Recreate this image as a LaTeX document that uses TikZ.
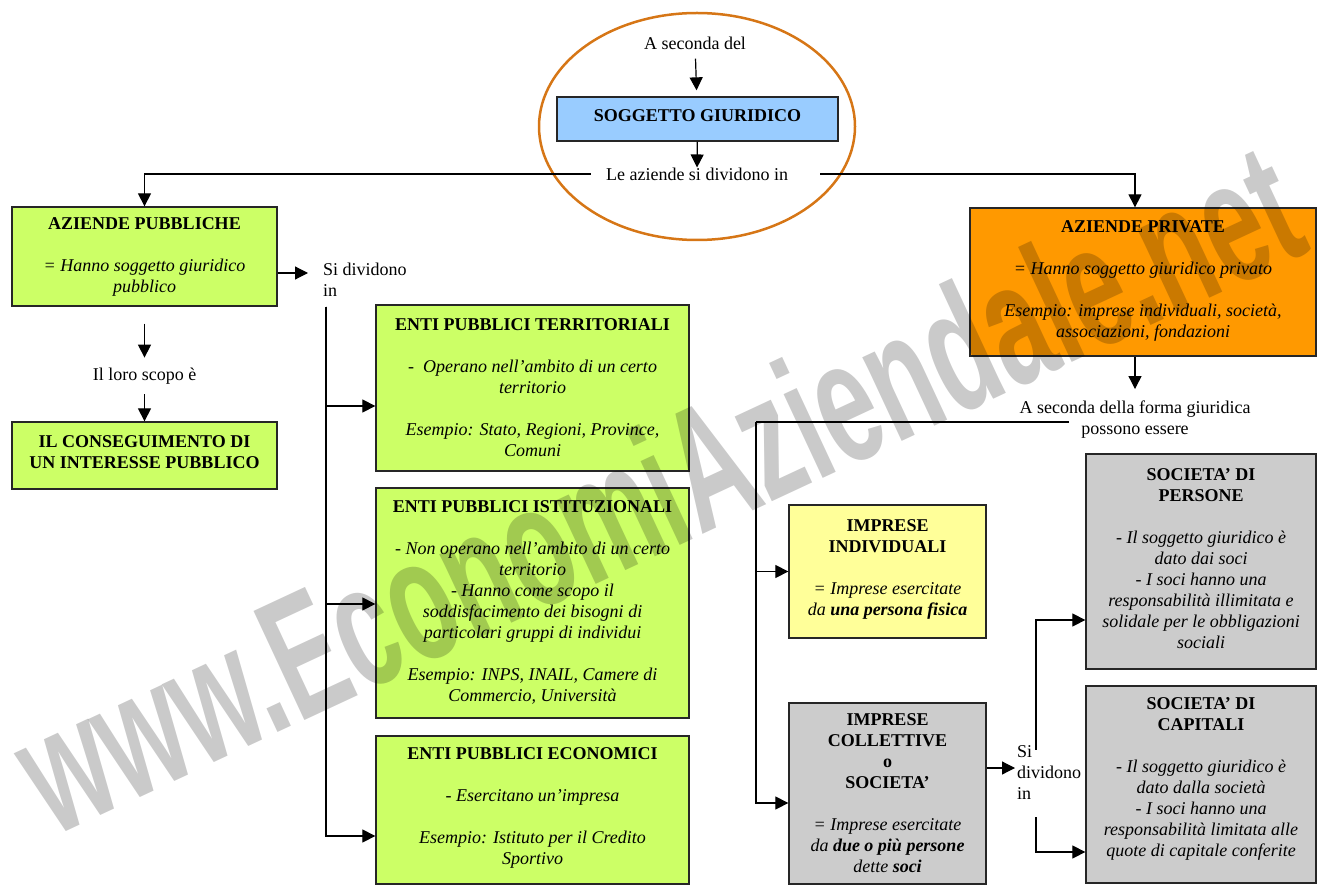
\documentclass[tikz,border=0pt]{standalone}
\usepackage{fontspec}
\setmainfont{Liberation Serif}
\newfontfamily\wmfont{Liberation Sans}
\usetikzlibrary{shapes.geometric, positioning, arrows.meta}

\definecolor{pubgreen}{RGB}{204,255,102}
\definecolor{soggblue}{RGB}{153,204,255}
\definecolor{privorange}{RGB}{255,153,0}
\definecolor{indyellow}{RGB}{255,255,153}
\definecolor{socgray}{RGB}{204,204,204}
\definecolor{ovalorange}{RGB}{214,118,22}
\definecolor{wmgray}{RGB}{202,202,202}

\begin{document}
\begin{tikzpicture}[x=1pt, y=-1pt, >={Triangle[length=13pt,width=13pt]},
    every node/.style={font=\fontsize{18}{21}\selectfont},
    box/.style={draw=black!85, line width=1.3pt, rectangle, align=center, inner sep=0pt,
        execute at end node={\rule[-#1]{0pt}{#1}}},
    box/.default=0pt,
    link/.style={line width=1.2pt}]
        \useasboundingbox (0,0) rectangle (1324,890);

        \node (oval) [draw=ovalorange, line width=2.5pt, ellipse, minimum width=316pt, minimum height=227pt] at (697,126.5) {};
        \node (sec) [inner ysep=9pt] at (695,43) {A seconda del};
        \node (sogg) [box=6pt, fill=soggblue, minimum width=281pt, minimum height=44pt] at (697.5,119) {\textbf{SOGGETTO GIURIDICO}};
        \node (split) [inner xsep=15pt, inner ysep=0pt] at (697,174) {Le aziende si dividono in};

        \node (pub) [box, fill=pubgreen, minimum width=265pt, minimum height=99pt] at (144.5,256.5) {\textbf{AZIENDE PUBBLICHE}\\[21pt] \textit{= Hanno soggetto giuridico}\\ \textit{pubblico}};
        \node (scopo) [inner ysep=10pt] at (144.5,376) {Il loro scopo è};
        \node (cons) [box=7pt, fill=pubgreen, minimum width=265pt, minimum height=67pt] at (144.5,455.5) {\textbf{IL CONSEGUIMENTO DI}\\ \textbf{UN INTERESSE PUBBLICO}};

        \node (sidiv) [inner xsep=15pt, inner ysep=0pt, align=left, anchor=north west] at (308,262.7) {Si dividono\\in};
        \coordinate (trunk) at ([xshift=18pt,yshift=-10pt]sidiv.south west);

        \node (terr) [box=1pt, fill=pubgreen, minimum width=313pt, minimum height=166pt] at (532.5,388) {\textbf{ENTI PUBBLICI TERRITORIALI}\\[21pt] \textit{-\ \ Operano nell'ambito di un certo}\\ \textit{territorio}\\[21pt] \textit{Esempio: Stato, Regioni, Province,}\\ \textit{Comuni}};
        \node (ist) [box=3pt, fill=pubgreen, minimum width=313pt, minimum height=230pt] at (532.5,603) {\textbf{ENTI PUBBLICI ISTITUZIONALI}\\[21pt] \textit{- Non operano nell'ambito di un certo}\\ \textit{territorio}\\ \textit{- Hanno come scopo il}\\ \textit{soddisfacimento dei bisogni di}\\ \textit{particolari gruppi di individui}\\[21pt] \textit{Esempio: INPS, INAIL, Camere di}\\ \textit{Commercio, Università}};
        \node (eco) [box=8pt, fill=pubgreen, minimum width=313pt, minimum height=148pt] at (532.5,810) {\textbf{ENTI PUBBLICI ECONOMICI}\\[21pt] \textit{- Esercitano un'impresa}\\[21pt] \textit{Esempio: Istituto per il Credito}\\ \textit{Sportivo}};

        \node (priv) [box=6pt, fill=privorange, minimum width=346pt, minimum height=148pt] at (1143,282) {\textbf{AZIENDE PRIVATE}\\[21pt] \textit{= Hanno soggetto giuridico privato}\\[21pt] \textit{Esempio: imprese individuali, società,}\\ \textit{associazioni, fondazioni}};
        \node (forma) [inner ysep=12pt, align=center] at (1135,420) {A seconda della forma giuridica\\possono essere};
        \coordinate (fork) at (1069,422);
        \coordinate (rtrunk) at (756,422);

        \node (indiv) [box=8pt, fill=indyellow, minimum width=197pt, minimum height=133pt] at (887.5,571.5) {\textbf{IMPRESE}\\ \textbf{INDIVIDUALI}\\[21pt] \textit{= Imprese esercitate}\\ \textit{da \textbf{una persona fisica}}};
        \node (coll) [box=1pt, fill=socgray, minimum width=197pt, minimum height=181pt] at (887.5,793.5) {\textbf{IMPRESE}\\ \textbf{COLLETTIVE}\\ \textbf{o}\\ \textbf{SOCIETA'}\\[21pt] \textit{= Imprese esercitate}\\ \textit{da \textbf{due o più persone}}\\ \textit{dette \textbf{soci}}};
        \node (sidiv2) [inner sep=0pt, align=left, anchor=north west] at (1017,745.7) {Si\\dividono\\in};
        \node (pers) [box=5pt, fill=socgray, minimum width=230pt, minimum height=215pt] at (1201,561.5) {\textbf{SOCIETA' DI}\\ \textbf{PERSONE}\\[21pt] \textit{- Il soggetto giuridico è}\\ \textit{dato dai soci}\\ \textit{- I soci hanno una}\\ \textit{responsabilità illimitata e}\\ \textit{solidale per le obbligazioni}\\ \textit{sociali}};
        \node (cap) [box=15pt, fill=socgray, minimum width=230pt, minimum height=197pt] at (1201,784.5) {\textbf{SOCIETA' DI}\\ \textbf{CAPITALI}\\[21pt] \textit{- Il soggetto giuridico è}\\ \textit{dato dalla società}\\ \textit{- I soci hanno una}\\ \textit{responsabilità limitata alle}\\ \textit{quote di capitale conferite}};

        \draw[->, link, shorten >=6pt] (sec) -- (sogg);
        \draw[->, link] (sogg) -- (split);
        \draw[->, link] (split.west) -| (pub.north);
        \draw[->, link] ([xshift=17pt]split.east) -| ([xshift=-8pt]priv.north);
        \draw[->, link, shorten <=17pt] (pub) -- (scopo);
        \draw[->, link] (scopo) -- (cons);
        \draw[->, link] ([yshift=-16.5pt]pub.east) -- ([yshift=-16.5pt]pub.east -| sidiv.west);
        \draw[->, link] (trunk) |- ([yshift=-18pt]terr.west);
        \draw[->, link] (trunk) |- ([yshift=-1pt]ist.west);
        \draw[->, link] (trunk) |- ([yshift=-26pt]eco.west);
        \draw[->, link] ([xshift=-8pt]priv.south) -- (forma);
        \draw[link] (fork) -- (rtrunk);
        \draw[->, link] (rtrunk) |- (indiv.west);
        \draw[->, link] (rtrunk) |- ([yshift=-9.5pt]coll.west);
        \draw[->, link, shorten >=2pt] ([yshift=25.5pt]coll.east) -- ([yshift=25.5pt]coll.east -| sidiv2.west);
        \draw[->, link] ([xshift=19pt,yshift=-4pt]sidiv2.north west) |- ([yshift=-58.5pt]pers.west);
        \draw[->, link] ([xshift=19pt,yshift=-17pt]sidiv2.south west) |- ([yshift=-67.5pt]cap.west);

        \begin{scope}[blend mode=multiply]
        \node (wm) [rotate=25, inner sep=0pt, text=wmgray, font=\wmfont\bfseries\fontsize{175}{175}\selectfont] at (657,487) {\scalebox{0.6}[1]{www.EconomiAziendale.net}};
        \end{scope}
    \end{tikzpicture}
\end{document}
